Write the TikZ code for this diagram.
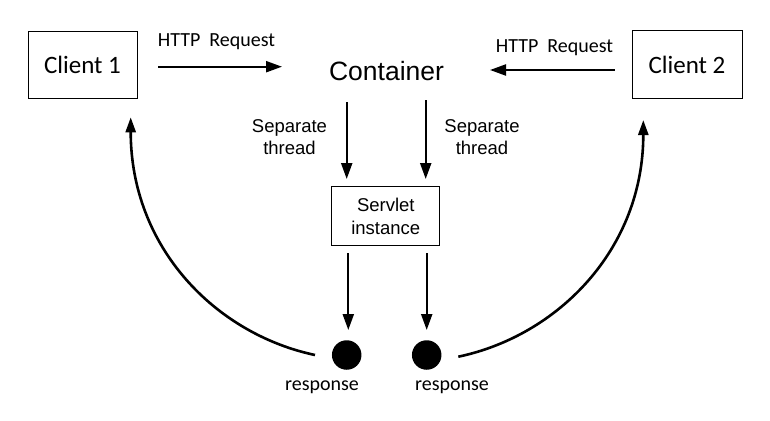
\documentclass[tikz,border=0pt]{standalone}
\usepackage{fontspec}
\setmainfont{Carlito}
\newfontfamily\arialfont{Liberation Sans}
\usetikzlibrary{arrows.meta}

\begin{document}
\begin{tikzpicture}[x=1pt,y=-1pt,
    box/.style={draw,line width=1pt,inner sep=0pt},
    arr/.style={line width=2.2pt,-{Triangle[length=16pt,width=11pt]}},
    back/.style={line width=2.6pt,-{Triangle[length=15pt,width=10pt]}},
    lbl/.style={inner sep=0pt,anchor=base,font=\fontsize{20}{24}\selectfont},
    thr/.style={inner sep=0pt,align=center,font=\arialfont\fontsize{18.5}{22.5}\selectfont},
    dot/.style={circle,fill,inner sep=0pt,minimum size=29.5pt}]
  \useasboundingbox (0,0) rectangle (770,420);

  % 'clients'
  \node[box,minimum width=109pt,minimum height=66pt,font=\fontsize{25}{30}\selectfont] at (82.5,65) (c1) {Client 1};
  \node[box,minimum width=110pt,minimum height=67pt,font=\fontsize{25}{30}\selectfont] at (687,64.5) (c2) {Client 2};

  % 'container'
  \node[inner sep=0pt,anchor=base,font=\arialfont\fontsize{26.5}{30}\selectfont] at (386.5,81) (ct) {Container};

  % 'requests'
  \node[lbl] at (216.5,46.7) (rq1) {HTTP\ \ Request};
  \coordinate (rq1s) at (158,66.7);
  \coordinate (rq1e) at (282,66.7);
  \draw[arr] (rq1s) -- (rq1e);

  \node[lbl] at (554.5,52.3) (rq2) {HTTP\ \ Request};
  \coordinate (rq2s) at (614.7,70);
  \coordinate (rq2e) at (490,70);
  \draw[arr] (rq2s) -- (rq2e);

  % 'threads'
  \node[thr] at (289.5,137) (th1) {Separate\\thread};
  \node[thr] at (482,137) (th2) {Separate\\thread};

  \coordinate (th1s) at (346.7,102);
  \coordinate (th1e) at (346.7,179);
  \draw[arr] (th1s) -- (th1e);

  \coordinate (th2s) at (425.7,100);
  \coordinate (th2e) at (425.7,179);
  \draw[arr] (th2s) -- (th2e);

  % 'servlet'
  \node[box,thr,minimum width=108.3pt,minimum height=59pt] at (385.8,216.2) (sv) {Servlet\\instance};

  % 'responses'
  \node[dot] at (346.7,355) (r1) {};
  \node[dot] at (426.7,355) (r2) {};
  \node[lbl] at (322,390) (rs1) {response};
  \node[lbl] at (452,390) (rs2) {response};

  \coordinate (sv1) at (348.3,253);
  \coordinate (r1t) at (348.3,330);
  \draw[arr] (sv1) -- (r1t);

  \coordinate (sv2) at (426.7,253);
  \coordinate (r2t) at (426.7,330);
  \draw[arr] (sv2) -- (r2t);

  % 'back to the clients'
  \coordinate (b1s) at (315,355);
  \coordinate (b1e) at (130.7,117.3);
  \draw[back] (b1s) .. controls (216,334) and (130.7,248) .. (b1e);

  \coordinate (b2s) at (458.3,356.7);
  \coordinate (b2e) at (643.3,120);
  \draw[back] (b2s) .. controls (557,336) and (643.3,250) .. (b2e);
\end{tikzpicture}
\end{document}
